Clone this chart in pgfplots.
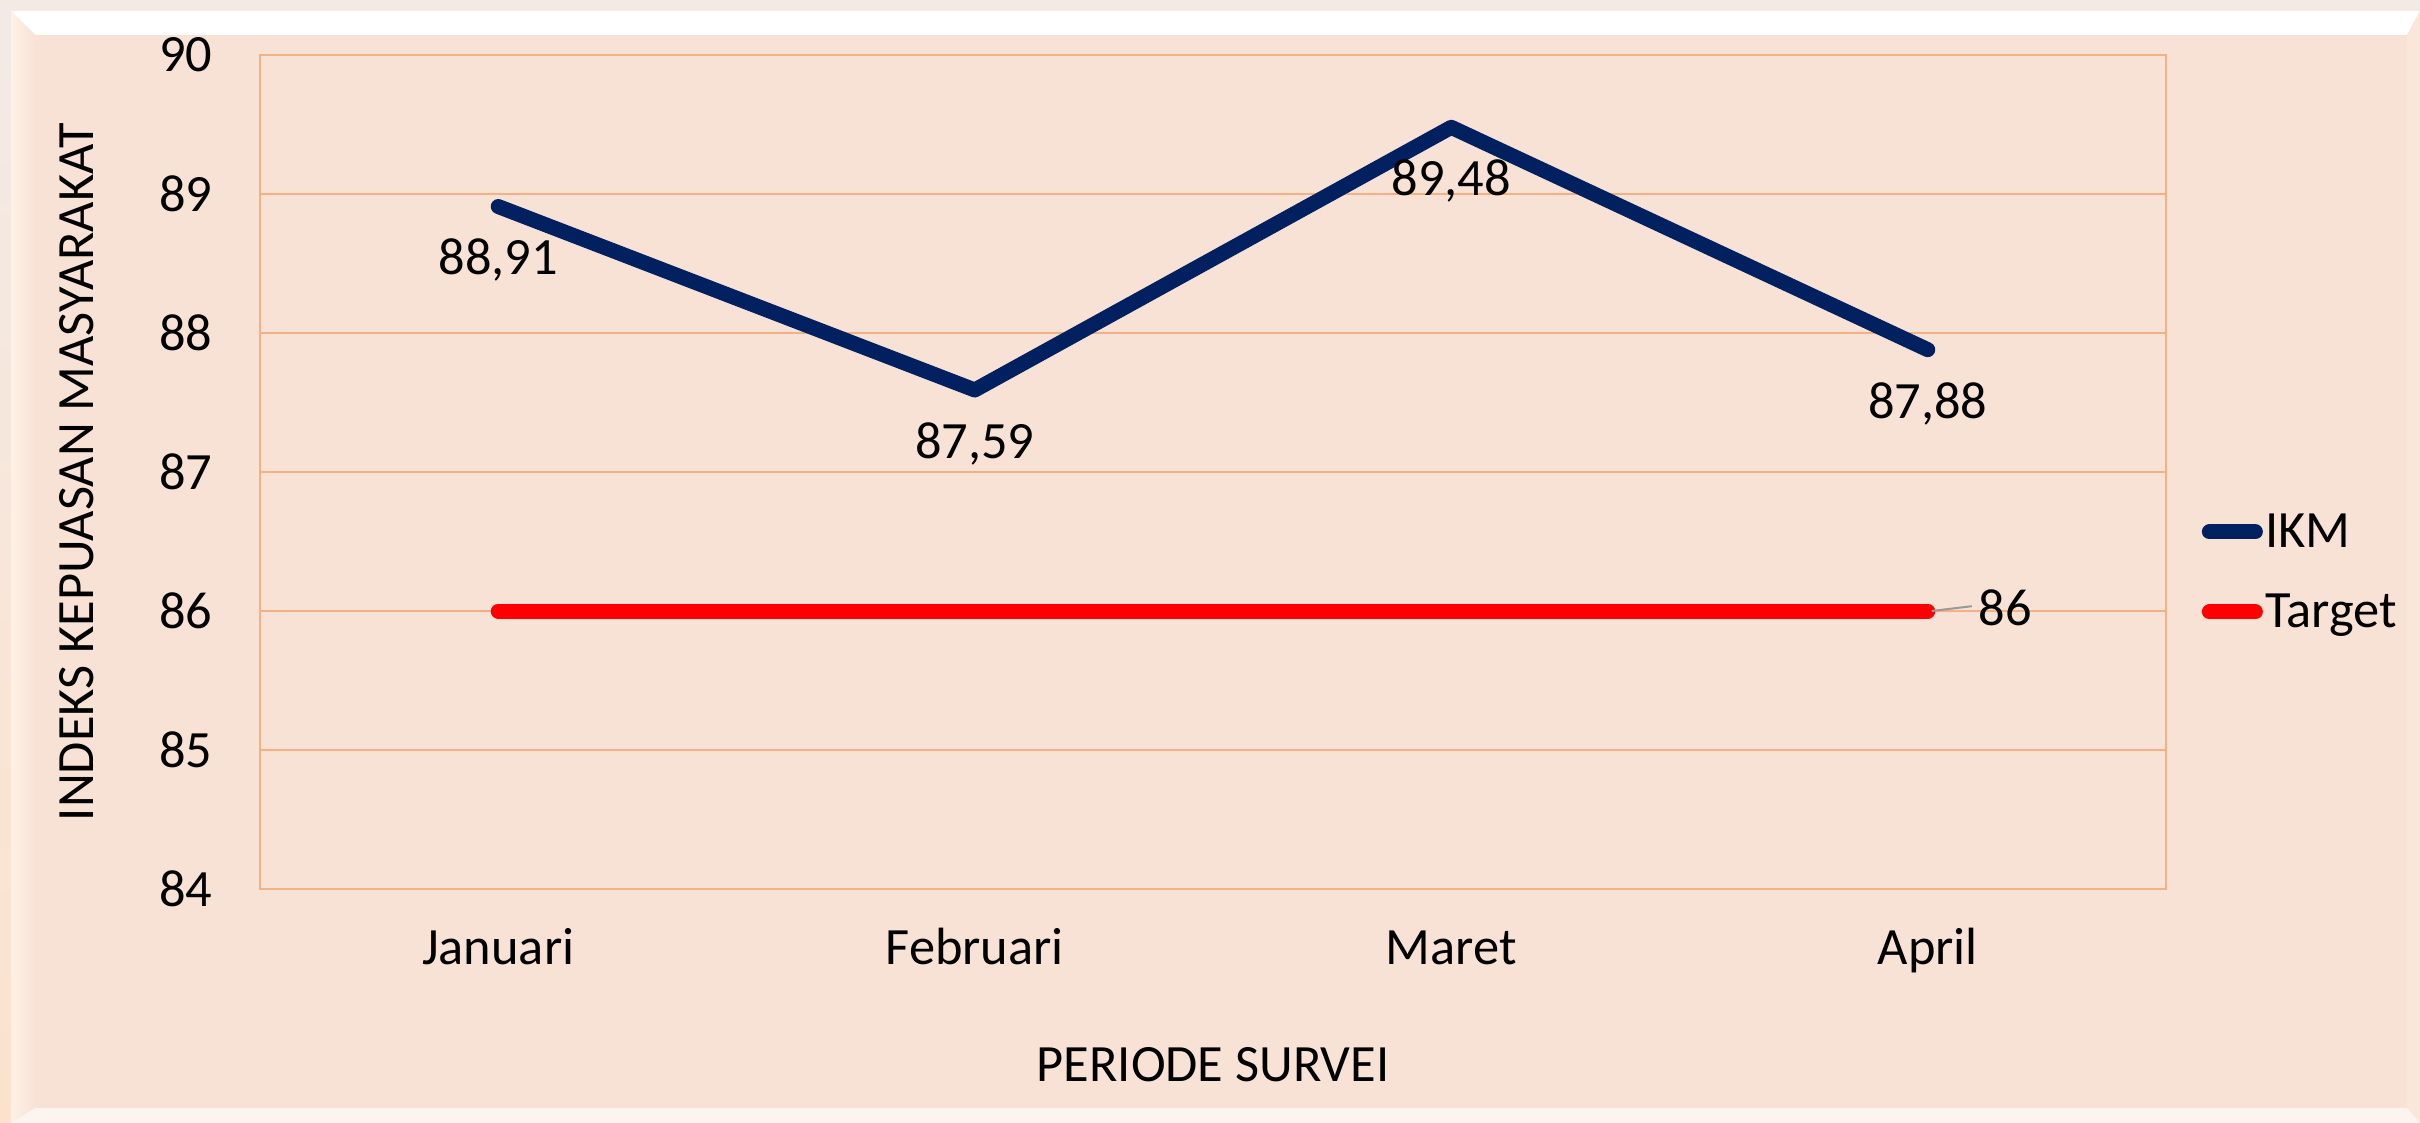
\documentclass[border=0pt]{standalone}
\usepackage{fontspec}
\setmainfont{Carlito}
\usepackage{pgfplots}
\pgfplotsset{compat=1.18}
\definecolor{bgpeach}{HTML}{F8E2D5}
\definecolor{gridor}{HTML}{F4B183}
\definecolor{ikm}{HTML}{002060}
\definecolor{outerc}{HTML}{F3EAE6}
\definecolor{bevl}{HTML}{FEF1E6}
\definecolor{bevr}{HTML}{FBE6DA}
\newcommand{\lblfont}{\fontsize{13.1}{16}\selectfont}
\begin{document}
\lblfont
\begin{tikzpicture}
\begin{scope}[yshift=280.75pt, x=0.25pt, y=-0.25pt]
  \fill[outerc] (0,0) rectangle (2420,1123);
  \shade[top color=outerc, bottom color=bgpeach!80!orange!60] (0,11) rectangle (11,1123);
  \fill[white] (11,11) -- (2420,11) -- (2407,35) -- (35,35) -- cycle;
  \shade[left color=bevl, right color=bgpeach] (11,11) -- (35,35) -- (35,1108) -- (11,1123) -- cycle;
  \fill[bevr] (2420,11) -- (2407,35) -- (2407,1108) -- (2420,1123) -- cycle;
  \fill[white!60!bgpeach] (11,1123) -- (35,1108) -- (2407,1108) -- (2420,1123) -- cycle;
  \fill[bgpeach] (35,35) rectangle (2407,1108);
\end{scope}
\begin{axis}[
  at={(65pt,58.5pt)}, anchor=south west,
  scale only axis, width=476.5pt, height=208.5pt,
  clip=false,
  xmin=-0.5, xmax=3.5, ymin=84, ymax=90,
  xtick={0,1,2,3}, xticklabels={Januari,Februari,Maret,April},
  ytick={84,85,86,87,88,89,90},
  major tick length=0pt,
  axis line style={gridor, line width=0.5pt},
  ymajorgrids, grid style={gridor, line width=0.5pt},
  axis background/.style={fill=bgpeach},
  /pgf/number format/assume math mode=true,
  ticklabel style={font=\lblfont},
  xticklabel style={anchor=base, yshift=-19pt},
  yticklabel style={anchor=east, inner sep=0pt, xshift=-11.75pt},
  xlabel={PERIODE SURVEI},
  ylabel={INDEKS KEPUASAN MASYARAKAT},
  every axis x label/.style={at={(axis description cs:0.5,-0.2314)}, anchor=base, font=\lblfont},
  every axis y label/.style={at={(axis description cs:-0.0876,0.5)}, rotate=90, anchor=base, font=\lblfont},
  legend style={at={(axis description cs:1.0184,0.3753)}, anchor=west,
    draw=none, fill=none, inner sep=0pt, row sep=8pt, column sep=0.6pt,
    nodes={inner sep=0pt, text height=9pt, text depth=3pt, anchor=base west},
    font=\lblfont},
  legend cell align=left,
  legend image code/.code={\draw[#1, line width=3.75pt, line cap=round] (0pt,4pt) -- (11.5pt,4pt);},
]
\addplot[ikm, line width=3.75pt, line cap=round, line join=round,
  nodes near coords={\pgfmathprintnumber[fixed,fixed zerofill,precision=2,use comma]{\pgfplotspointmeta}},
  point meta=y,
  nodes near coords style={black, anchor=base, yshift=-17.1pt, inner sep=0pt, font=\lblfont}]
  coordinates {(0,88.91) (1,87.59) (2,89.48) (3,87.88)};
\addlegendentry{IKM}
\addplot[red, line width=3.75pt, line cap=round,
  nodes near coords, point meta=explicit symbolic,
  nodes near coords style={black, anchor=base, xshift=19.4pt, yshift=-3.5pt, inner sep=0pt, font=\lblfont}]
  coordinates {(0,86)[] (1,86)[] (2,86)[] (3,86)[86]};
\addlegendentry{Target}
\draw[black!40, line width=0.5pt] (axis cs:3,86) ++(1pt,0pt) -- ++(10pt,1.2pt);
\end{axis}
\pgfresetboundingbox
\useasboundingbox (0,0) rectangle (605pt,280.75pt);
\end{tikzpicture}
\end{document}
